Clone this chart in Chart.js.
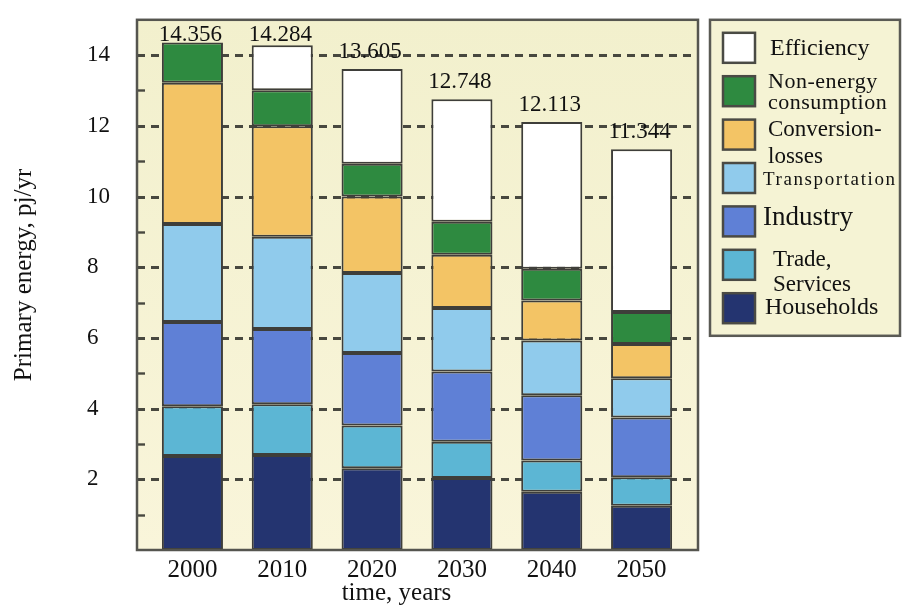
<!DOCTYPE html>
<html>
<head>
<meta charset="utf-8">
<script src="https://cdn.jsdelivr.net/npm/chart.js@4"></script>
<style>
  html, body { margin: 0; padding: 0; background: #ffffff; }
  #wrap { width: 903px; height: 610px; position: relative; }
</style>
</head>
<body>
<div id="wrap"><canvas id="c" width="903" height="610"></canvas></div>
<script>
// ---- data ----
const years = [2000, 2010, 2020, 2030, 2040, 2050];
const households       = [2.66, 2.69, 2.31, 2.04, 1.65, 1.25];
const tradeServices    = [1.41, 1.43, 1.21, 1.02, 0.88, 0.81];
const industry         = [2.38, 2.13, 2.05, 1.99, 1.85, 1.69];
const transportation   = [2.77, 2.61, 2.27, 1.80, 1.55, 1.11];
const conversionLosses = [4.00, 3.13, 2.16, 1.50, 1.13, 0.97];
const nonEnergy        = [1.14, 1.02, 0.93, 0.94, 0.90, 0.90];
const efficiency       = [0.00, 1.27, 2.68, 3.46, 4.15, 4.61];
const totalLabels = ['14.356', '14.284', '13.605', '12.748', '12.113', '11.344'];
const yTickValues = [2, 4, 6, 8, 10, 12, 14];
const yMinorValues = [1, 3, 5, 7, 9, 11, 13];

const seriesNames = ['Households', 'Trade, Services', 'Industry', 'Transportation',
                     'Conversion-losses', 'Non-energy consumption', 'Efficiency'];
const seriesValues = [households, tradeServices, industry, transportation,
                      conversionLosses, nonEnergy, efficiency];
const seriesColors = ['#243470', '#5cb6d4', '#5f80d6', '#90cbec', '#f3c465', '#2e8a40', '#ffffff'];

// legend entries (top to bottom), text lines and style
const legendEntries = [
  { idx: 6, lines: ['Efficiency'], size: 24, spacing: 0, dx: 15, off: [1] },
  { idx: 5, lines: ['Non-energy', 'consumption'], size: 22, spacing: 0.5, dx: 13, off: [-9, 12] },
  { idx: 4, lines: ['Conversion-', 'losses'], size: 23, spacing: 0, dx: 13, off: [-5, 22] },
  { idx: 3, lines: ['Transportation'], size: 19, spacing: 1.6, dx: 8, off: [2] },
  { idx: 2, lines: ['Industry'], size: 27, spacing: 0, dx: 8, off: [-3] },
  { idx: 1, lines: ['Trade,', 'Services'], size: 23, spacing: 0, dx: 18, off: [-5, 20] },
  { idx: 0, lines: ['Households'], size: 24, spacing: 0, dx: 10, off: [0] }
];

const SERIF = '"Liberation Serif", "DejaVu Serif", serif';
const INK = '#111111';
const GRID = '#48483f';

const datasets = seriesNames.map((name, i) => ({
  label: name,
  data: years.map((yr, j) => ({ x: yr, y: seriesValues[i][j] })),
  backgroundColor: seriesColors[i],
  borderColor: '#3e3e3a',
  borderWidth: (ctx) => (ctx.raw && ctx.raw.y === 0 ? 0 : 2),
  borderSkipped: false,
  barPercentage: 0.68,
  categoryPercentage: 1.0
}));

const framePlugin = {
  id: 'framePlugin',
  beforeDraw(chart) {
    const { ctx, chartArea: a } = chart;
    ctx.save();
    ctx.fillStyle = '#ffffff';
    ctx.fillRect(0, 0, chart.width, chart.height);
    const g = ctx.createLinearGradient(0, a.top, 0, a.bottom);
    g.addColorStop(0, '#f2f0cd');
    g.addColorStop(1, '#f9f5da');
    ctx.fillStyle = g;
    ctx.fillRect(a.left, a.top, a.right - a.left, a.bottom - a.top);
    ctx.restore();
  },
  beforeDatasetsDraw(chart) {
    const { ctx, chartArea: a, scales } = chart;
    const ys = scales.y;
    ctx.save();
    ctx.strokeStyle = GRID;
    ctx.lineWidth = 2.8;
    ctx.setLineDash([8, 6]);
    yTickValues.forEach(v => {
      const p = Math.round(ys.getPixelForValue(v)) + 0.5;
      ctx.beginPath();
      ctx.moveTo(a.left, p);
      ctx.lineTo(a.right, p);
      ctx.stroke();
    });
    ctx.setLineDash([]);
    ctx.lineWidth = 2.4;
    yMinorValues.forEach(v => {
      const p = Math.round(ys.getPixelForValue(v)) + 0.5;
      ctx.beginPath();
      ctx.moveTo(a.left, p);
      ctx.lineTo(a.left + 8, p);
      ctx.stroke();
    });
    ctx.restore();
  },
  afterDatasetsDraw(chart) {
    const { ctx, chartArea: a } = chart;
    const topMeta = chart.getDatasetMeta(chart.data.datasets.length - 1);
    ctx.save();
    ctx.fillStyle = INK;
    ctx.font = '23px ' + SERIF;
    ctx.textAlign = 'center';
    ctx.textBaseline = 'alphabetic';
    topMeta.data.forEach((el, i) => {
      const base = Math.max(el.y - 11, a.top + 21);
      ctx.fillText(totalLabels[i], el.x - 2, base);
    });
    ctx.restore();
  },
  afterDraw(chart) {
    const { ctx, chartArea: a } = chart;
    ctx.save();
    // plot frame
    ctx.strokeStyle = '#55554f';
    ctx.lineWidth = 2.5;
    ctx.strokeRect(a.left, a.top, a.right - a.left, a.bottom - a.top);

    // axis titles
    ctx.fillStyle = INK;
    ctx.font = '25px ' + SERIF;
    ctx.textAlign = 'center';
    ctx.textBaseline = 'middle';
    ctx.fillText('time, years', (a.left + a.right) / 2 - 21, a.bottom + 43);
    ctx.save();
    ctx.translate(24, (a.top + a.bottom) / 2 - 10);
    ctx.rotate(-Math.PI / 2);
    ctx.fillText('Primary energy, pj/yr', 0, 0);
    ctx.restore();

    // legend box
    const lx = a.right + 12, ly = a.top, lw = chart.width - 3 - lx, lh = 316;
    ctx.fillStyle = '#f5f3d4';
    ctx.fillRect(lx, ly, lw, lh);
    ctx.strokeStyle = '#5a5a54';
    ctx.lineWidth = 2.5;
    ctx.strokeRect(lx, ly, lw, lh);

    legendEntries.forEach((e, k) => {
      const bx = lx + 13, by = ly + 13 + k * 43.4;
      ctx.fillStyle = seriesColors[e.idx];
      ctx.fillRect(bx, by, 32, 30);
      ctx.strokeStyle = '#4a4a44';
      ctx.lineWidth = 2.5;
      ctx.strokeRect(bx, by, 32, 30);
      ctx.fillStyle = INK;
      ctx.font = e.size + 'px ' + SERIF;
      ctx.letterSpacing = e.spacing + 'px';
      ctx.textAlign = 'left';
      ctx.textBaseline = 'middle';
      const cy = by + 15;
      e.lines.forEach((line, n) => {
        ctx.fillText(line, bx + 32 + e.dx, cy + e.off[n]);
      });
      ctx.letterSpacing = '0px';
    });
    ctx.restore();
  }
};

new Chart(document.getElementById('c'), {
  type: 'bar',
  data: { datasets },
  plugins: [framePlugin],
  options: {
    responsive: false,
    animation: false,
    devicePixelRatio: 1,
    layout: { padding: { left: 87, right: 205, top: 10, bottom: 0 } },
    plugins: { legend: { display: false }, tooltip: { enabled: false } },
    scales: {
      x: {
        type: 'linear',
        stacked: true,
        offset: false,
        min: 1993.83,
        max: 2056.28,
        afterBuildTicks: (s) => { s.ticks = years.map(v => ({ value: v })); },
        afterFit: (s) => { s.height = 60; },
        grid: { display: false, drawTicks: false, offset: false },
        border: { display: false },
        ticks: {
          autoSkip: false,
          padding: 5,
          color: INK,
          font: { family: SERIF, size: 25 },
          callback: (v) => String(v)
        }
      },
      y: {
        stacked: true,
        min: 0,
        max: 15,
        afterBuildTicks: (s) => { s.ticks = yTickValues.map(v => ({ value: v })); },
        afterFit: (s) => { s.width = 50; },
        grid: { display: false, drawTicks: false },
        border: { display: false },
        ticks: {
          crossAlign: 'far',
          padding: 6,
          color: INK,
          font: { family: SERIF, size: 23 },
          callback: (v) => String(v)
        }
      }
    }
  }
});
</script>
</body>
</html>
